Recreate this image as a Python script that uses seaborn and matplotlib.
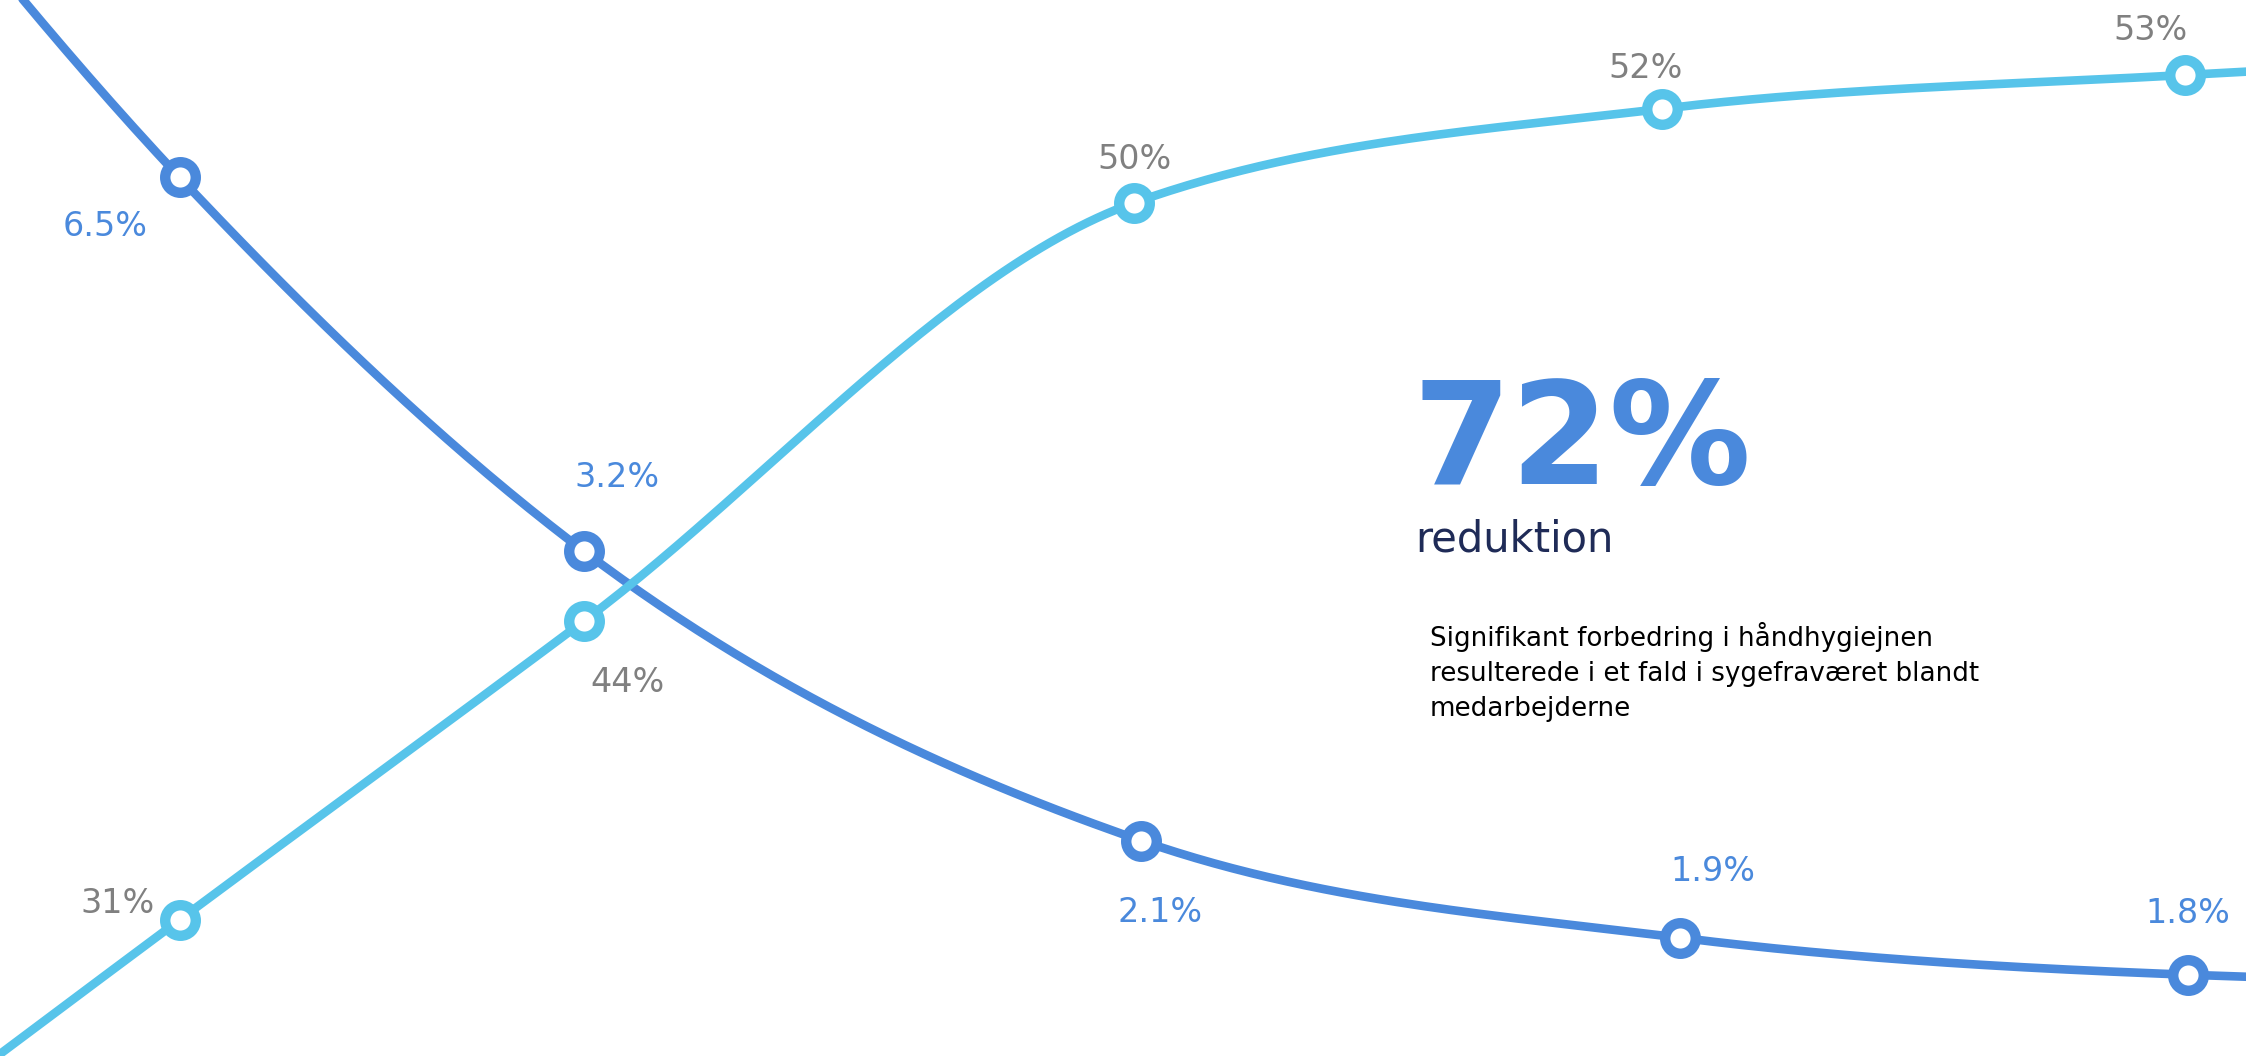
import numpy as np
import pandas as pd
import matplotlib
matplotlib.use('Agg')
import matplotlib.pyplot as plt
import seaborn as sns

# Values (both series placed on a 0-100 "canvas" scale,
# the chart has no visible axes). Ends beyond the frame are estimated from the
# direction the lines leave the picture.
sick_x = [8.0, 26.0, 50.8, 74.8, 97.4]
sick_y = [83.2, 47.8, 20.4, 11.2, 7.7]
sick_labels = ['6.5%', '3.2%', '2.1%', '1.9%', '1.8%']
sick_edge_x = [-12, 125]
sick_edge_y = [135, 6.6]

hygiene_x = [8.0, 26.0, 50.5, 74.0, 97.3]
hygiene_y = [12.9, 41.2, 80.8, 89.7, 92.9]
hygiene_labels = ['31%', '44%', '50%', '52%', '53%']
hygiene_edge_x = [-12, 125]
hygiene_edge_y = [-19, 95.6]

big_number = '72%'
big_caption = 'reduktion'
note = ('Signifikant forbedring i håndhygiejnen\n'
        'resulterede i et fald i sygefraværet blandt\n'
        'medarbejderne')

DARK = '#4a89dc'
LIGHT = '#57c4ea'
GREY = '#808080'
NAVY = '#1f2b57'


def monotone_curve(x, y, n=60):
    """Monotone cubic (d3 monotoneX style) through the given points."""
    x = np.asarray(x, float)
    y = np.asarray(y, float)
    h = np.diff(x)
    s = np.diff(y) / h
    m = np.zeros_like(y)
    for i in range(1, len(x) - 1):
        p = (s[i - 1] * h[i] + s[i] * h[i - 1]) / (h[i - 1] + h[i])
        m[i] = (np.sign(s[i - 1]) + np.sign(s[i])) * min(abs(s[i - 1]), abs(s[i]), 0.5 * abs(p))
    m[0] = (3 * s[0] - m[1]) / 2
    m[-1] = (3 * s[-1] - m[-2]) / 2
    xs, ys = [], []
    for i in range(len(h)):
        t = np.linspace(0, 1, n)
        h00 = 2 * t**3 - 3 * t**2 + 1
        h10 = t**3 - 2 * t**2 + t
        h01 = -2 * t**3 + 3 * t**2
        h11 = t**3 - t**2
        xs.append(x[i] + t * h[i])
        ys.append(h00 * y[i] + h10 * h[i] * m[i] + h01 * y[i + 1] + h11 * h[i] * m[i + 1])
    return np.concatenate(xs), np.concatenate(ys)


sns.set_theme(style='white')
plt.rcParams['font.family'] = ['DejaVu Sans']

fig = plt.figure(figsize=(22.46, 10.56), dpi=100)
ax = fig.add_axes([0, 0, 1, 1])

series = [
    (sick_x, sick_y, sick_edge_x, sick_edge_y, sick_labels, DARK, DARK,
     [(-54, -35), (24, 53), (14, -52), (24, 48), (0, 44)]),
    (hygiene_x, hygiene_y, hygiene_edge_x, hygiene_edge_y, hygiene_labels, LIGHT, GREY,
     [(-45, 12), (31, -44), (0, 31), (-12, 29), (-25, 32)]),
]

for xs, ys, ex, ey, labels, color, label_color, offsets in series:
    all_x = [ex[0]] + xs + [ex[1]]
    all_y = [ey[0]] + ys + [ey[1]]
    cx, cy = monotone_curve(all_x, all_y)
    curve = pd.DataFrame({'x': cx, 'y': cy})
    sns.lineplot(data=curve, x='x', y='y', sort=False, estimator=None,
                 color=color, linewidth=6.2, ax=ax, zorder=2)
    pts = pd.DataFrame({'x': xs, 'y': ys})
    sns.scatterplot(data=pts, x='x', y='y', s=22**2, color='white',
                    edgecolor=color, linewidth=7.5, ax=ax, zorder=3)
    for x, y, lab, off in zip(xs, ys, labels, offsets):
        ax.annotate(lab, (x, y), xytext=off, textcoords='offset points',
                    ha='center', va='center', fontsize=24, color=label_color)

ax.text(1413 / 22.46, 100 - 484 / 10.56, big_number, fontsize=102, fontweight='bold',
        color=DARK, ha='left', va='baseline')
ax.text(1415 / 22.46, 100 - 551 / 10.56, big_caption, fontsize=30, color=NAVY,
        ha='left', va='baseline')
ax.text(1430 / 22.46, 100 - 622 / 10.56, note, fontsize=18.8, color='black',
        ha='left', va='top', linespacing=1.45)

ax.set_xlim(0, 100)
ax.set_ylim(0, 100)
ax.set_axis_off()

fig.savefig('out.png', dpi=100, facecolor='white')
plt.close(fig)
